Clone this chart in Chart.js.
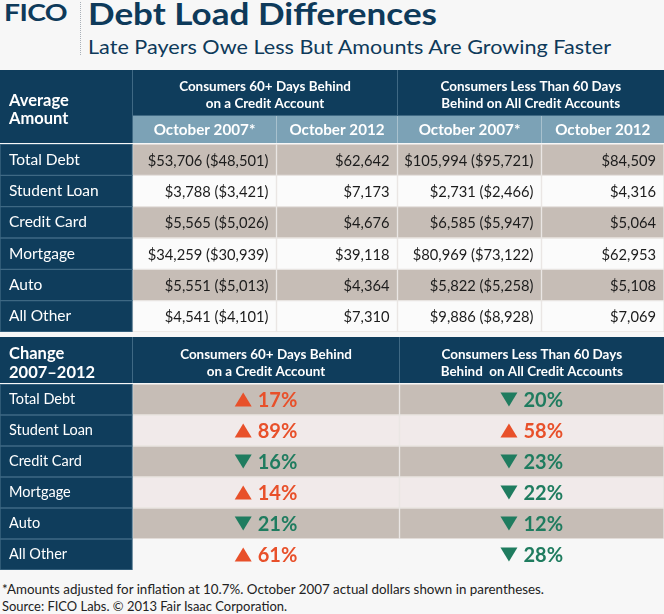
<!DOCTYPE html>
<html><head><meta charset="utf-8">
<script src="https://cdn.jsdelivr.net/npm/chart.js@4"></script>
<style>
html,body{margin:0;padding:0;background:#f7f7f7;}
body{width:664px;height:614px;position:relative;overflow:hidden;font-family:Lato,"Open Sans",sans-serif;color:#0e3a5a;}
.t{position:absolute;white-space:nowrap;line-height:1;transform-origin:0 0;}
#logo{left:4px;top:1px;font-weight:bold;font-size:23px;letter-spacing:-0.5px;color:#0e3a5a;}
#sep{position:absolute;left:80px;top:2px;height:53px;border-left:1px dotted #a9b0b8;}
#title{left:88px;top:-2px;font-weight:bold;font-size:31px;color:#0e3a5a;}
#subtitle{left:88px;top:36px;font-size:20px;color:#0e3a5a;}
.note{left:2px;font-size:14px;color:#222;}
canvas{position:absolute;left:0;}
</style></head>
<body>
<div id="logo" class="t">FICO</div>
<div id="sep"></div>
<div id="title" class="t">Debt Load Differences</div>
<div id="subtitle" class="t">Late Payers Owe Less But Amounts Are Growing Faster</div>
<canvas id="tableA" width="664" height="263" style="top:70px"></canvas>
<canvas id="tableB" width="664" height="234" style="top:337px"></canvas>
<div id="note1" class="t note" style="top:582px">*Amounts adjusted for inflation at 10.7%. October 2007 actual dollars shown in parentheses.</div>
<div id="note2" class="t note" style="top:599px">Source: FICO Labs. © 2013 Fair Isaac Corporation.</div>
<script>
// ---------- DATA ----------
const categories = ['Total Debt','Student Loan','Credit Card','Mortgage','Auto','All Other'];
// Consumers 60+ days behind on a credit account
const late2007Adjusted = [53706, 3788, 5565, 34259, 5551, 4541];
const late2007Actual   = [48501, 3421, 5026, 30939, 5013, 4101];
const late2012         = [62642, 7173, 4676, 39118, 4364, 7310];
// Consumers less than 60 days behind on all credit accounts
const current2007Adjusted = [105994, 2731, 6585, 80969, 5822, 9886];
const current2007Actual   = [95721, 2466, 5947, 73122, 5258, 8928];
const current2012         = [84509, 4316, 5064, 62953, 5108, 7069];
// Change 2007-2012 (%)
const lateChange    = [17, 89, -16, 14, -21, 61];
const currentChange = [-20, 58, -23, -22, -12, -28];
// Header texts
const topCorner = ['Average','Amount'];
const bottomCorner = ['Change','2007–2012'];
const groupHeadersTop = [['Consumers 60+ Days Behind','on a Credit Account'],['Consumers Less Than 60 Days','Behind on All Credit Accounts']];
const groupHeadersBottom = [['Consumers 60+ Days Behind','on a Credit Account'],['Consumers Less Than 60 Days','Behind  on All Credit Accounts']];
const periodHeaders = ['October 2007*','October 2012','October 2007*','October 2012'];

// ---------- LAYOUT / STYLE ----------
const COLS_A = [0,132.5,276.5,397.5,541.5,664];
const COLS_B = [0,132.5,399.5,664];
const NAVY='#0f3d5c', NAVY_LINE='#3f6984', BLUE='#7ca2b6', BLUE_LINE='#a8c1ce';
const GRAY='#c6bdb6', WHITE='#fbfbfb', PINK='#f1eaea', PAGE='#f7f7f7', CELL_LINE='#e8e4e1';
const RED='#e8502a', GREEN='#1f7c5f', INK='#1c1c1c';
const FONT='Lato, "Open Sans", sans-serif';

function fit(id,w){const el=document.getElementById(id);const r=el.getBoundingClientRect().width;el.style.transform='scaleX('+(w/r)+')';}
fit('logo',63);fit('title',349);fit('subtitle',523);fit('note1',542);fit('note2',285);

const money = v => '$' + v.toLocaleString('en-US');

function txt(ctx,s,x,y,font,color,align,squeeze){
  ctx.font=font;ctx.fillStyle=color;ctx.textAlign=align;ctx.textBaseline='middle';
  const w=ctx.measureText(s).width;
  ctx.fillText(s,x,y,w*(squeeze||1));
}

function colDataset(edges,c,fills,lines){
  return {data:categories.map(()=>[edges[c],edges[c+1]]),backgroundColor:fills,borderColor:lines,
    borderWidth:1,borderSkipped:false,grouped:false,barPercentage:1,categoryPercentage:1};
}

function baseOptions(padTop,labelSize){
  return {
    indexAxis:'y',responsive:false,animation:false,events:[],
    layout:{padding:{top:padTop,bottom:1,left:0,right:0}},
    plugins:{legend:{display:false},tooltip:{enabled:false},title:{display:false}},
    scales:{
      x:{type:'linear',min:0,max:664,display:false},
      y:{type:'category',grid:{display:false},border:{display:false},
         afterFit(s){s.width=0;s.paddingTop=0;s.paddingBottom=0;s.paddingLeft=0;s.paddingRight=0;},
         ticks:{mirror:true,padding:9,z:1,color:'#ffffff',font:{family:FONT,size:labelSize}}}
    }
  };
}

// ---------- TOP TABLE ----------
const rowFillA = [GRAY,WHITE,GRAY,WHITE,GRAY,WHITE];
const lineA = categories.map(()=>CELL_LINE);
const navyFill = categories.map(()=>NAVY), navyLine = categories.map(()=>NAVY_LINE);
const valuesA = [
  categories.map((_,i)=>money(late2007Adjusted[i])+' ('+money(late2007Actual[i])+')'),
  categories.map((_,i)=>money(late2012[i])),
  categories.map((_,i)=>money(current2007Adjusted[i])+' ('+money(current2007Actual[i])+')'),
  categories.map((_,i)=>money(current2012[i]))
];

const pluginA = {id:'tableA',afterDatasetsDraw(chart){
  const ctx=chart.ctx, x=chart.scales.x, p=v=>x.getPixelForValue(v);
  const mid=46, bot=73;
  ctx.save();
  ctx.fillStyle=NAVY;ctx.fillRect(0,0,chart.width,mid);ctx.fillRect(0,0,p(COLS_A[1]),bot);
  ctx.fillStyle=BLUE;ctx.fillRect(p(COLS_A[1]),mid,p(COLS_A[5])-p(COLS_A[1]),bot-mid);
  ctx.fillStyle=NAVY_LINE;ctx.fillRect(p(COLS_A[1])-0.5,0,1,bot);ctx.fillRect(p(COLS_A[3])-0.5,0,1,mid);
  ctx.fillRect(p(COLS_A[1]),mid-1,p(COLS_A[5])-p(COLS_A[1]),1);
  ctx.fillStyle=BLUE_LINE;[2,3,4].forEach(c=>ctx.fillRect(p(COLS_A[c])-0.5,mid,1,bot-mid));
  txt(ctx,topCorner[0],9,31,'bold 17px '+FONT,'#fff','left',0.97);
  txt(ctx,topCorner[1],9,49,'bold 17px '+FONT,'#fff','left',0.97);
  groupHeadersTop.forEach((g,k)=>{
    const cx=(p(COLS_A[1+2*k])+p(COLS_A[3+2*k]))/2;
    txt(ctx,g[0],cx,16,'bold 14px '+FONT,'#fff','center',0.96);
    txt(ctx,g[1],cx,33,'bold 14px '+FONT,'#fff','center',0.96);
  });
  periodHeaders.forEach((h,k)=>{
    const cx=(p(COLS_A[1+k])+p(COLS_A[2+k]))/2;
    txt(ctx,h,cx,60,'bold 16px '+FONT,'#fff','center',0.95);
  });
  for(let d=1;d<=4;d++){
    const meta=chart.getDatasetMeta(d);
    meta.data.forEach((bar,i)=>{
      txt(ctx,valuesA[d-1][i],bar.x-8,bar.y+1,'16px '+FONT,INK,'right',0.92);
    });
  }
  ctx.restore();
}};

new Chart(document.getElementById('tableA'),{
  type:'bar',
  data:{labels:categories,datasets:[
    colDataset(COLS_A,0,navyFill,navyLine),
    colDataset(COLS_A,1,rowFillA,lineA),
    colDataset(COLS_A,2,rowFillA,lineA),
    colDataset(COLS_A,3,rowFillA,lineA),
    colDataset(COLS_A,4,rowFillA,lineA)
  ]},
  options:baseOptions(74,15.5),
  plugins:[pluginA]
});

// ---------- BOTTOM TABLE ----------
const rowFillB = [GRAY,PINK,GRAY,PINK,GRAY,PAGE];
const lineB = [CELL_LINE,CELL_LINE,CELL_LINE,CELL_LINE,CELL_LINE,PAGE];
const changes = [lateChange,currentChange];

function drawChange(ctx,v,cx,cy){
  const s=Math.abs(v)+'%';
  ctx.font='bold 20px '+FONT;
  const tw=ctx.measureText(s).width, triW=17, triH=14, gap=6;
  const total=triW+gap+tw, x0=cx-total/2;
  const col = v>0?RED:GREEN;
  ctx.fillStyle=col;ctx.beginPath();
  if(v>0){ctx.moveTo(x0,cy+triH/2);ctx.lineTo(x0+triW,cy+triH/2);ctx.lineTo(x0+triW/2,cy-triH/2);}
  else {ctx.moveTo(x0,cy-triH/2);ctx.lineTo(x0+triW,cy-triH/2);ctx.lineTo(x0+triW/2,cy+triH/2);}
  ctx.closePath();ctx.fill();
  txt(ctx,s,x0+triW+gap,cy+1,'bold 20px '+FONT,col,'left',1);
}

const pluginB = {id:'tableB',afterDatasetsDraw(chart){
  const ctx=chart.ctx, x=chart.scales.x, p=v=>x.getPixelForValue(v);
  const bot=46;
  ctx.save();
  ctx.fillStyle=NAVY;ctx.fillRect(0,0,chart.width,bot);
  ctx.fillStyle=NAVY_LINE;ctx.fillRect(p(COLS_B[1])-0.5,0,1,bot);ctx.fillRect(p(COLS_B[2])-0.5,0,1,bot);
  txt(ctx,bottomCorner[0],9,17,'bold 17px '+FONT,'#fff','left',0.97);
  txt(ctx,bottomCorner[1],9,36,'bold 17px '+FONT,'#fff','left',0.97);
  groupHeadersBottom.forEach((g,k)=>{
    const cx=(p(COLS_B[1+k])+p(COLS_B[2+k]))/2;
    txt(ctx,g[0],cx,17,'bold 14px '+FONT,'#fff','center',0.96);
    txt(ctx,g[1],cx,34,'bold 14px '+FONT,'#fff','center',0.96);
  });
  for(let d=1;d<=2;d++){
    const meta=chart.getDatasetMeta(d);
    meta.data.forEach((bar,i)=>{
      drawChange(ctx,changes[d-1][i],(bar.x+bar.base)/2,bar.y);
    });
  }
  ctx.restore();
}};

new Chart(document.getElementById('tableB'),{
  type:'bar',
  data:{labels:categories,datasets:[
    colDataset(COLS_B,0,navyFill,navyLine),
    colDataset(COLS_B,1,rowFillB,lineB),
    colDataset(COLS_B,2,rowFillB,lineB)
  ]},
  options:baseOptions(47,14.5),
  plugins:[pluginB]
});
</script>
</body></html>
